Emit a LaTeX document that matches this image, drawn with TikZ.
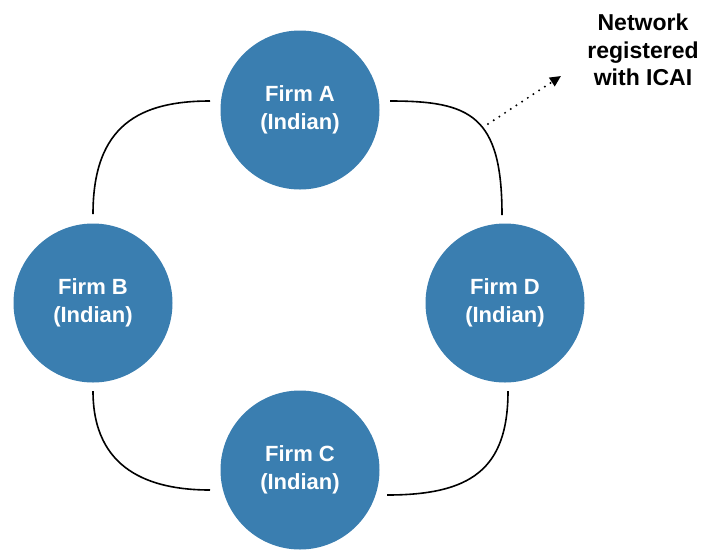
\documentclass[tikz,border=0pt]{standalone}
\usepackage{fontspec}
\setmainfont{Liberation Sans}
\usetikzlibrary{arrows.meta}
\definecolor{firmblue}{RGB}{58,126,176}
\tikzset{
  firm/.style={circle, fill=firmblue, minimum size=159pt, inner sep=0pt, text=white,
    align=center, font=\bfseries\fontsize{22}{28}\selectfont},
  link/.style={draw=black, line width=1.6pt},
  note/.style={align=center, font=\bfseries\fontsize{23}{27.5}\selectfont},
  dotarrow/.style={line width=2.2pt, line cap=round, dash pattern=on 0pt off 6.8pt,
    -{Triangle[length=11pt,width=10pt,line cap=butt]}}
}
\begin{document}
\begin{tikzpicture}[x=1pt,y=-1pt]
\useasboundingbox (0,0) rectangle (704,550);
\node[firm] (A) at (300,110) {Firm A\\(Indian)};
\node[firm] (B) at (93,303) {Firm B\\(Indian)};
\node[firm] (D) at (505,303) {Firm D\\(Indian)};
\node[firm] (C) at (300,470) {Firm C\\(Indian)};
\node[note] (N) at (643,50) {Network\\registered\\with ICAI};
% connector ends
\coordinate (ABb) at (93,214);
\coordinate (ABa) at (210,101);
\coordinate (ADa) at (390,101);
\coordinate (ADd) at (502,215);
\coordinate (BCb) at (93,391);
\coordinate (BCc) at (210,490);
\coordinate (DCd) at (508,391);
\coordinate (DCc) at (387,495);
\coordinate (arrS) at (488,124);
\coordinate (arrE) at (561,76);
\draw[link] (ABb) .. controls (93,125) and (140,101) .. (ABa);
\draw[link] (ADa) .. controls (470,101) and (502,115) .. (ADd);
\draw[link] (BCb) .. controls (93,470) and (150,490) .. (BCc);
\draw[link] (DCd) .. controls (508,470) and (470,495) .. (DCc);
\draw[dotarrow] (arrS) -- (arrE);
\end{tikzpicture}
\end{document}
